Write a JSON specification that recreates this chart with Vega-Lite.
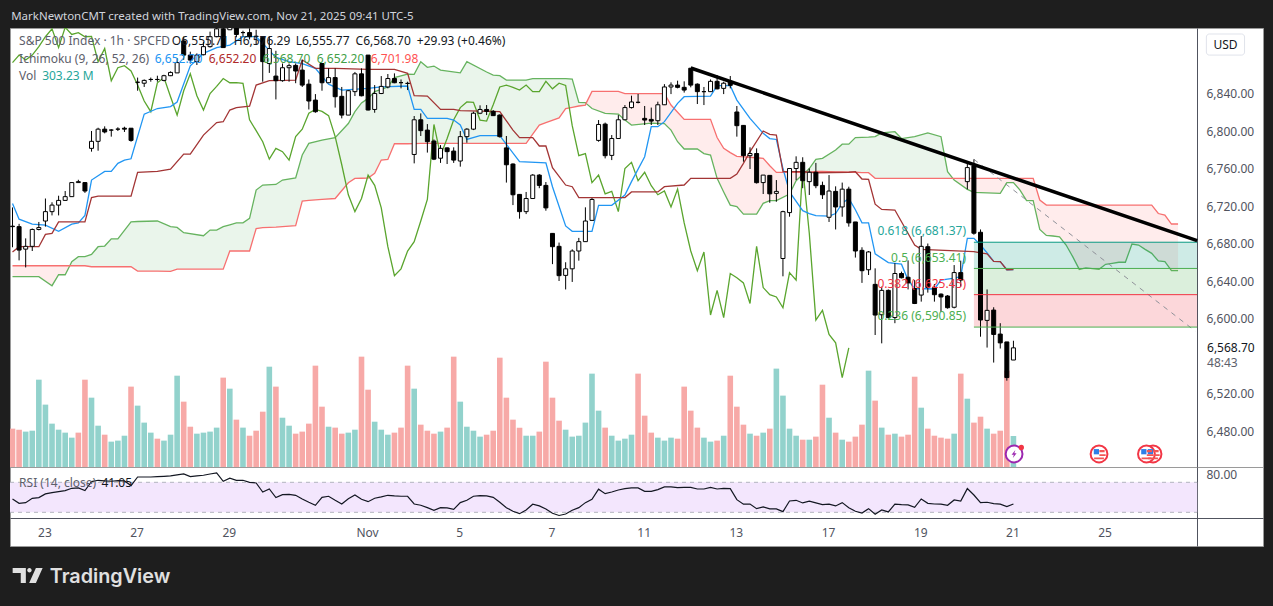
{"$schema":"https://vega.github.io/schema/vega-lite/v6.json","background":"#1e1e1e","padding":{"left":9,"top":0,"right":10,"bottom":0},"spacing":0,"bounds":"flush","config":{"font":"Noto Sans","text":{"font":"Noto Sans"},"axis":{"labelFont":"Noto Sans","labelColor":"#50535e","labelFontSize":12,"grid":false,"title":null}},
"datasets":{
"bars":[
{"i":0,"o":6698.5,"h":6718.5,"l":6676,"c":6698,"v":375,"d":"R","r":47.8,"k":6873},
{"i":1,"o":6698,"h":6701,"l":6662,"c":6673,"v":365,"d":"R","r":42,"k":6881},
{"i":2,"o":6674,"h":6685.5,"l":6654.5,"c":6677,"v":346,"d":"T","r":42.9,"k":6875.7},
{"i":3,"o":6677,"h":6696,"l":6672,"c":6695,"v":355,"d":"T","r":48.7,"k":6881},
{"i":4,"o":6695,"h":6703,"l":6694,"c":6697,"v":854,"d":"T","r":49.6,"k":6890},
{"i":5,"o":6704,"h":6728,"l":6698,"c":6714,"v":610,"d":"T","r":54.5,"k":6900.6},
{"i":6,"o":6714,"h":6724,"l":6710,"c":6721,"v":424,"d":"T","r":56.2,"k":6909},
{"i":7,"o":6721,"h":6731,"l":6710,"c":6726,"v":365,"d":"T","r":57.6,"k":6889},
{"i":8,"o":6726,"h":6736,"l":6726,"c":6730,"v":336,"d":"T","r":58.9,"k":6910.6},
{"i":9,"o":6730,"h":6745.5,"l":6730,"c":6745,"v":287,"d":"T","r":62,"k":6903},
{"i":10,"o":6745,"h":6748,"l":6745,"c":6746,"v":336,"d":"R","r":62.5,"k":6905},
{"i":11,"o":6745,"h":6745.5,"l":6734,"c":6736,"v":854,"d":"R","r":58.9,"k":6900.6},
{"i":12,"o":6781.5,"h":6800,"l":6778,"c":6789,"v":678,"d":"T","r":70.9,"k":6901},
{"i":13,"o":6789,"h":6803.5,"l":6779,"c":6802,"v":404,"d":"T","r":72.7,"k":6874},
{"i":14,"o":6802,"h":6805,"l":6797.5,"c":6799,"v":316,"d":"R","r":71.8,"k":6888},
{"i":15,"o":6801,"h":6802,"l":6794,"c":6801,"v":248,"d":"T","r":71.4,"k":6853.7},
{"i":16,"o":6802,"h":6804,"l":6800,"c":6802,"v":258,"d":"T","r":72.2,"k":6867.5},
{"i":17,"o":6803,"h":6804.6,"l":6799,"c":6802,"v":306,"d":"T","r":71.8,"k":6869.7},
{"i":18,"o":6803,"h":6803,"l":6788.6,"c":6790,"v":786,"d":"R","r":65.6,"k":6864},
{"i":19,"o":6852,"h":6857,"l":6843,"c":6852,"v":600,"d":"T","r":77.1,"k":6849},
{"i":20,"o":6851,"h":6855,"l":6847,"c":6854,"v":434,"d":"T","r":77.1,"k":6832},
{"i":21,"o":6855,"h":6857,"l":6852.6,"c":6855,"v":336,"d":"T","r":77.1,"k":6820.6},
{"i":22,"o":6855,"h":6859,"l":6852.6,"c":6855,"v":277,"d":"R","r":77.6,"k":6851.5},
{"i":23,"o":6854,"h":6860,"l":6853,"c":6859,"v":258,"d":"T","r":78,"k":6857},
{"i":24,"o":6859,"h":6863.6,"l":6858.6,"c":6862.5,"v":316,"d":"T","r":78.5,"k":6836.6},
{"i":25,"o":6862,"h":6877.5,"l":6862,"c":6873,"v":893,"d":"T","r":79.8,"k":6817},
{"i":26,"o":6896,"h":6900.6,"l":6876,"c":6881,"v":639,"d":"R","r":81.1,"k":6843},
{"i":27,"o":6881,"h":6884.6,"l":6872,"c":6875.7,"v":394,"d":"R","r":77.6,"k":6861},
{"i":28,"o":6874,"h":6882.8,"l":6870.4,"c":6881,"v":326,"d":"T","r":78.5,"k":6837.6},
{"i":29,"o":6881.4,"h":6895,"l":6880.7,"c":6890,"v":336,"d":"T","r":79.4,"k":6822.4},
{"i":30,"o":6890,"h":6906,"l":6889,"c":6900.6,"v":346,"d":"T","r":81.1,"k":6840},
{"i":31,"o":6900.6,"h":6911,"l":6900,"c":6909,"v":385,"d":"T","r":82.5,"k":6847.6},
{"i":32,"o":6909,"h":6915,"l":6889,"c":6889,"v":874,"d":"R","r":71.4,"k":6856},
{"i":33,"o":6908,"h":6915,"l":6907.7,"c":6910.6,"v":766,"d":"T","r":75.4,"k":6851.5},
{"i":34,"o":6911,"h":6914,"l":6900,"c":6903,"v":463,"d":"R","r":72.7,"k":6851.6},
{"i":35,"o":6905,"h":6907,"l":6900.6,"c":6905,"v":385,"d":"T","r":72.7,"k":6850.8},
{"i":36,"o":6905,"h":6909.5,"l":6897.7,"c":6900.6,"v":306,"d":"R","r":70,"k":6812},
{"i":37,"o":6901,"h":6908,"l":6891.7,"c":6901,"v":355,"d":"R","r":69.1,"k":6800.4},
{"i":38,"o":6900,"h":6900,"l":6852.6,"c":6874,"v":541,"d":"R","r":57.1,"k":6788.6},
{"i":39,"o":6872,"h":6901,"l":6862,"c":6888,"v":981,"d":"T","r":61.1,"k":6770},
{"i":40,"o":6858.6,"h":6885.6,"l":6833.7,"c":6853.7,"v":786,"d":"R","r":49.6,"k":6781.5},
{"i":41,"o":6853.7,"h":6872,"l":6852.6,"c":6867.5,"v":482,"d":"T","r":53.6,"k":6778},
{"i":42,"o":6867.5,"h":6872,"l":6852.6,"c":6869.7,"v":404,"d":"T","r":54,"k":6769},
{"i":43,"o":6870,"h":6872,"l":6851,"c":6864,"v":326,"d":"R","r":52.7,"k":6794},
{"i":44,"o":6865,"h":6875.7,"l":6847,"c":6849,"v":346,"d":"R","r":47.8,"k":6802},
{"i":45,"o":6850,"h":6855,"l":6823,"c":6832,"v":424,"d":"R","r":43.4,"k":6819},
{"i":46,"o":6833,"h":6839.4,"l":6819.5,"c":6820.6,"v":991,"d":"R","r":39.4,"k":6823},
{"i":47,"o":6872,"h":6872,"l":6843,"c":6851.5,"v":590,"d":"R","r":50,"k":6821},
{"i":48,"o":6851.5,"h":6866.8,"l":6851.5,"c":6857,"v":394,"d":"T","r":51.4,"k":6816.4},
{"i":49,"o":6857,"h":6866.8,"l":6825,"c":6836.6,"v":385,"d":"R","r":46,"k":6794},
{"i":50,"o":6837,"h":6847,"l":6813.5,"c":6817,"v":326,"d":"R","r":41.1,"k":6764},
{"i":51,"o":6817,"h":6843.7,"l":6817,"c":6843,"v":336,"d":"T","r":48.2,"k":6732},
{"i":52,"o":6842,"h":6863,"l":6837.3,"c":6861,"v":365,"d":"T","r":53.1,"k":6714},
{"i":53,"o":6861,"h":6866.8,"l":6837,"c":6837.6,"v":1079,"d":"R","r":47.4,"k":6728},
{"i":54,"o":6881,"h":6881,"l":6822,"c":6822.4,"v":756,"d":"R","r":44.2,"k":6753},
{"i":55,"o":6823,"h":6849,"l":6819.5,"c":6840,"v":443,"d":"T","r":48.7,"k":6742},
{"i":56,"o":6840,"h":6858.6,"l":6839.4,"c":6847.6,"v":365,"d":"T","r":50.5,"k":6718},
{"i":57,"o":6847,"h":6860.8,"l":6845.5,"c":6856,"v":316,"d":"T","r":52.7,"k":6676.6},
{"i":58,"o":6856,"h":6861.5,"l":6851,"c":6851.5,"v":336,"d":"R","r":51.8,"k":6645.7},
{"i":59,"o":6851.6,"h":6855,"l":6845.5,"c":6851.6,"v":385,"d":"R","r":51.4,"k":6653},
{"i":60,"o":6850.8,"h":6852.6,"l":6843.7,"c":6850.8,"v":991,"d":"R","r":51.4,"k":6672},
{"i":61,"o":6775,"h":6816,"l":6765.5,"c":6812,"v":766,"d":"T","r":41.1,"k":6682},
{"i":62,"o":6812,"h":6818.8,"l":6794.7,"c":6800.4,"v":414,"d":"R","r":39.4,"k":6704},
{"i":63,"o":6801,"h":6807.4,"l":6777,"c":6788.6,"v":355,"d":"R","r":36.2,"k":6727},
{"i":64,"o":6789.3,"h":6791,"l":6769,"c":6770,"v":326,"d":"R","r":32.7,"k":6807},
{"i":65,"o":6771,"h":6785,"l":6766,"c":6781.5,"v":346,"d":"T","r":36.2,"k":6773.7},
{"i":66,"o":6782,"h":6782.6,"l":6764.8,"c":6778,"v":385,"d":"R","r":35.8,"k":6792},
{"i":67,"o":6778.6,"h":6782.6,"l":6766,"c":6769,"v":1079,"d":"R","r":34,"k":6812},
{"i":68,"o":6768,"h":6800,"l":6762,"c":6794,"v":639,"d":"T","r":42.9,"k":6825},
{"i":69,"o":6794,"h":6803,"l":6787.5,"c":6802,"v":394,"d":"T","r":46,"k":6831},
{"i":70,"o":6802,"h":6820.6,"l":6801,"c":6819,"v":355,"d":"T","r":51.4,"k":6830.6},
{"i":71,"o":6819,"h":6827.4,"l":6818,"c":6823,"v":297,"d":"T","r":52.2,"k":6811.7},
{"i":72,"o":6823,"h":6827.7,"l":6817,"c":6821,"v":316,"d":"R","r":51.8,"k":6810.6},
{"i":73,"o":6821,"h":6822.4,"l":6816,"c":6816.4,"v":355,"d":"R","r":50,"k":6828},
{"i":74,"o":6817,"h":6817.8,"l":6793,"c":6794,"v":1069,"d":"R","r":43.4,"k":6847},
{"i":75,"o":6782,"h":6794.7,"l":6745,"c":6764,"v":678,"d":"R","r":36.2,"k":6849},
{"i":76,"o":6764.8,"h":6765.5,"l":6721,"c":6732,"v":463,"d":"R","r":31.4,"k":6846.6},
{"i":77,"o":6732.4,"h":6732.8,"l":6706.5,"c":6714,"v":385,"d":"R","r":28.2,"k":6843.7},
{"i":78,"o":6714,"h":6735,"l":6711.4,"c":6728,"v":306,"d":"T","r":33.1,"k":6849},
{"i":79,"o":6728,"h":6754,"l":6728,"c":6753,"v":306,"d":"T","r":40.8,"k":6842},
{"i":80,"o":6753,"h":6754,"l":6739,"c":6742,"v":346,"d":"R","r":38.5,"k":6842},
{"i":81,"o":6742,"h":6745.6,"l":6715,"c":6718,"v":1030,"d":"R","r":34.5,"k":6853},
{"i":82,"o":6690.8,"h":6691,"l":6658,"c":6676.6,"v":678,"d":"R","r":28.8,"k":6845},
{"i":83,"o":6677,"h":6681,"l":6640,"c":6645.7,"v":453,"d":"R","r":25.8,"k":6851},
{"i":84,"o":6646,"h":6660,"l":6631,"c":6653,"v":365,"d":"T","r":27.8,"k":6848.7},
{"i":85,"o":6653,"h":6673.8,"l":6639,"c":6672,"v":297,"d":"T","r":32.7,"k":6805.7},
{"i":86,"o":6672,"h":6686,"l":6661.7,"c":6682,"v":306,"d":"T","r":36.2,"k":6773.7},
{"i":87,"o":6682,"h":6718.6,"l":6682,"c":6704,"v":434,"d":"T","r":42.9,"k":6776},
{"i":88,"o":6704.7,"h":6728.5,"l":6704,"c":6727,"v":913,"d":"T","r":47.4,"k":6744.9},
{"i":89,"o":6790,"h":6811.7,"l":6788.6,"c":6807,"v":551,"d":"T","r":60.8,"k":6753},
{"i":90,"o":6807.4,"h":6809,"l":6770.8,"c":6773.7,"v":385,"d":"R","r":54.9,"k":6733},
{"i":91,"o":6774,"h":6795.7,"l":6769,"c":6792,"v":306,"d":"T","r":57.1,"k":6735.6},
{"i":92,"o":6792,"h":6817,"l":6791.8,"c":6812,"v":258,"d":"T","r":59.8,"k":6714},
{"i":93,"o":6812,"h":6827.7,"l":6811.7,"c":6825,"v":277,"d":"T","r":61.6,"k":6760},
{"i":94,"o":6825,"h":6837.7,"l":6824,"c":6831,"v":316,"d":"T","r":62.5,"k":6766.6},
{"i":95,"o":6830.6,"h":6839.5,"l":6829.5,"c":6830.6,"v":913,"d":"R","r":62.5,"k":6747},
{"i":96,"o":6813.5,"h":6826.7,"l":6806.4,"c":6811.7,"v":502,"d":"R","r":58,"k":6756},
{"i":97,"o":6812.4,"h":6825,"l":6806.4,"c":6810.6,"v":336,"d":"R","r":58,"k":6741.7},
{"i":98,"o":6811,"h":6831.3,"l":6806.4,"c":6828,"v":287,"d":"T","r":60.3,"k":6732},
{"i":99,"o":6828,"h":6850,"l":6827.7,"c":6847,"v":258,"d":"T","r":63.8,"k":6736},
{"i":100,"o":6847,"h":6851.9,"l":6839.4,"c":6849,"v":287,"d":"T","r":63.8,"k":6719},
{"i":101,"o":6849,"h":6853.7,"l":6845.5,"c":6846.6,"v":277,"d":"R","r":62.9,"k":6738},
{"i":102,"o":6846.6,"h":6853,"l":6841,"c":6843.7,"v":786,"d":"R","r":63.3,"k":6702},
{"i":103,"o":6867,"h":6867.2,"l":6846.6,"c":6849,"v":551,"d":"R","r":63.3,"k":6672},
{"i":104,"o":6850,"h":6850.8,"l":6828.8,"c":6842,"v":385,"d":"R","r":61.1,"k":6651},
{"i":105,"o":6842,"h":6847,"l":6827.7,"c":6842,"v":287,"d":"T","r":61.1,"k":6671},
{"i":106,"o":6842,"h":6855,"l":6841.6,"c":6853,"v":248,"d":"T","r":63.3,"k":6603.7},
{"i":107,"o":6853,"h":6859.7,"l":6844.4,"c":6845,"v":258,"d":"R","r":61.1,"k":6630},
{"i":108,"o":6845.5,"h":6852.6,"l":6839.4,"c":6851,"v":306,"d":"T","r":62,"k":6601},
{"i":109,"o":6853,"h":6858.7,"l":6845.5,"c":6848.7,"v":893,"d":"R","r":61.6,"k":6648},
{"i":110,"o":6820.3,"h":6826.7,"l":6794,"c":6805.7,"v":590,"d":"R","r":46.9,"k":6643.5},
{"i":111,"o":6806,"h":6806.4,"l":6767.3,"c":6773.7,"v":414,"d":"R","r":40.8,"k":6638},
{"i":112,"o":6773.7,"h":6782.6,"l":6759.5,"c":6776,"v":326,"d":"T","r":41.1,"k":6616},
{"i":113,"o":6776,"h":6781.5,"l":6744,"c":6744.9,"v":306,"d":"R","r":34.9,"k":6677},
{"i":114,"o":6745,"h":6753,"l":6732.8,"c":6753,"v":336,"d":"T","r":37.2,"k":6633},
{"i":115,"o":6752.7,"h":6753,"l":6723.5,"c":6733,"v":375,"d":"R","r":34.5,"k":6625.4},
{"i":116,"o":6733.5,"h":6747.7,"l":6724.6,"c":6735.6,"v":962,"d":"T","r":34.5,"k":6623},
{"i":117,"o":6664,"h":6715,"l":6645,"c":6714,"v":698,"d":"T","r":30.9,"k":6611.5},
{"i":118,"o":6713,"h":6760,"l":6708.6,"c":6760,"v":375,"d":"T","r":45.1,"k":6649},
{"i":119,"o":6760,"h":6773,"l":6747.7,"c":6766.6,"v":306,"d":"T","r":46,"k":6641},
{"i":120,"o":6766.6,"h":6772,"l":6739,"c":6747,"v":267,"d":"R","r":42.5,"k":6761},
{"i":121,"o":6746,"h":6760,"l":6731.8,"c":6756,"v":267,"d":"T","r":44.8,"k":6691},
{"i":122,"o":6756,"h":6766,"l":6739,"c":6741.7,"v":297,"d":"R","r":42.5,"k":6598.4},
{"i":123,"o":6742,"h":6746,"l":6727.5,"c":6732,"v":805,"d":"R","r":40.2,"k":6608.7},
{"i":124,"o":6708,"h":6753,"l":6703,"c":6736,"v":482,"d":"T","r":40.8,"k":6583},
{"i":125,"o":6735.6,"h":6741,"l":6695,"c":6719,"v":336,"d":"R","r":38.5,"k":6574},
{"i":126,"o":6719,"h":6745,"l":6708.6,"c":6738,"v":267,"d":"T","r":42.9,"k":6537},
{"i":127,"o":6738,"h":6740.6,"l":6698,"c":6702,"v":248,"d":"R","r":36.2,"k":6568.7},
{"i":128,"o":6703,"h":6703,"l":6665,"c":6672,"v":297,"d":"R","r":31.4},
{"i":129,"o":6672.7,"h":6676,"l":6638,"c":6651,"v":414,"d":"R","r":29.1},
{"i":130,"o":6652,"h":6672,"l":6646.4,"c":6671,"v":942,"d":"T","r":34.9},
{"i":131,"o":6636.4,"h":6653.5,"l":6582.4,"c":6603.7,"v":649,"d":"R","r":27.4},
{"i":132,"o":6604,"h":6634,"l":6573.5,"c":6630,"v":385,"d":"T","r":33.1},
{"i":133,"o":6630,"h":6631,"l":6600,"c":6601,"v":316,"d":"R","r":30.5},
{"i":134,"o":6601,"h":6659,"l":6595,"c":6648,"v":326,"d":"T","r":40.8},
{"i":135,"o":6648,"h":6650,"l":6642.8,"c":6643.5,"v":297,"d":"R","r":40.2},
{"i":136,"o":6644,"h":6662,"l":6631,"c":6638,"v":316,"d":"R","r":39.8},
{"i":137,"o":6632,"h":6641,"l":6615.4,"c":6616,"v":883,"d":"R","r":36.7},
{"i":138,"o":6625,"h":6688,"l":6618,"c":6677,"v":580,"d":"T","r":47.8},
{"i":139,"o":6676.6,"h":6680,"l":6627.6,"c":6633,"v":375,"d":"R","r":42},
{"i":140,"o":6633,"h":6636.8,"l":6618,"c":6625.4,"v":306,"d":"R","r":41.1},
{"i":141,"o":6626,"h":6626.8,"l":6607,"c":6623,"v":287,"d":"R","r":40.8},
{"i":142,"o":6624,"h":6625,"l":6610.5,"c":6611.5,"v":277,"d":"R","r":39.4},
{"i":143,"o":6612,"h":6657,"l":6610.8,"c":6649,"v":326,"d":"T","r":46.5},
{"i":144,"o":6649,"h":6661.7,"l":6634,"c":6641,"v":913,"d":"R","r":45.1},
{"i":145,"o":6746,"h":6765.5,"l":6737.8,"c":6761,"v":668,"d":"T","r":61.6},
{"i":146,"o":6762.7,"h":6769.8,"l":6689.4,"c":6691,"v":434,"d":"R","r":53.1},
{"i":147,"o":6692,"h":6695,"l":6580.6,"c":6598.4,"v":492,"d":"R","r":42.9},
{"i":148,"o":6598,"h":6631,"l":6569,"c":6608.7,"v":375,"d":"T","r":43.4},
{"i":149,"o":6609,"h":6612,"l":6553,"c":6583,"v":326,"d":"R","r":41.6},
{"i":150,"o":6583.4,"h":6595,"l":6568,"c":6574,"v":355,"d":"R","r":40.8},
{"i":151,"o":6575,"h":6575,"l":6533.7,"c":6537,"v":942,"d":"R","r":37.6},
{"i":152,"o":6555.71,"h":6576.29,"l":6555.77,"c":6568.7,"v":303.23,"d":"T","r":41.05}
],
"tenkan":[{"i":0,"t":6722.8},{"i":1,"t":6706},{"i":3,"t":6700.7},{"i":5,"t":6699.7},{"i":7,"t":6693},{"i":9,"t":6700.7},{"i":10,"t":6702},{"i":11,"t":6710},{"i":12,"t":6747.7},{"i":14,"t":6757},{"i":15,"t":6757},{"i":16,"t":6765.5},{"i":17,"t":6769},{"i":18,"t":6770.4},{"i":20,"t":6818},{"i":22,"t":6824},{"i":24,"t":6826},{"i":25,"t":6831},{"i":27,"t":6869.6},{"i":29,"t":6882.8},{"i":31,"t":6889},{"i":33,"t":6891.7},{"i":35,"t":6900.6},{"i":37,"t":6900.6},{"i":38,"t":6893.5},{"i":40,"t":6878.5},{"i":42,"t":6874},{"i":44,"t":6872},{"i":46,"t":6866.8},{"i":48,"t":6850},{"i":50,"t":6843.7},{"i":54,"t":6845.5},{"i":56,"t":6847},{"i":60,"t":6848},{"i":61,"t":6823},{"i":62,"t":6823},{"i":63,"t":6813.5},{"i":66,"t":6813.5},{"i":67,"t":6811.7},{"i":68,"t":6806.4},{"i":69,"t":6791},{"i":71,"t":6795},{"i":74,"t":6795},{"i":77,"t":6767.3},{"i":81,"t":6766},{"i":82,"t":6740.6},{"i":84,"t":6698.7},{"i":85,"t":6693},{"i":88,"t":6693},{"i":89,"t":6720.7},{"i":91,"t":6720.7},{"i":93,"t":6731.7},{"i":94,"t":6746},{"i":96,"t":6772.6},{"i":97,"t":6804.6},{"i":98,"t":6804.6},{"i":99,"t":6810},{"i":101,"t":6829.5},{"i":102,"t":6836.6},{"i":106,"t":6837.3},{"i":107,"t":6848.4},{"i":109,"t":6848.4},{"i":110,"t":6833},{"i":112,"t":6813.5},{"i":114,"t":6797.5},{"i":115,"t":6792},{"i":116,"t":6791},{"i":117,"t":6760},{"i":118,"t":6735},{"i":120,"t":6715},{"i":121,"t":6712},{"i":122,"t":6709.7},{"i":124,"t":6709.3},{"i":125,"t":6712},{"i":126,"t":6723},{"i":127,"t":6728},{"i":128,"t":6716},{"i":129,"t":6702},{"i":130,"t":6702},{"i":131,"t":6669},{"i":133,"t":6659.6},{"i":135,"t":6658},{"i":136,"t":6641},{"i":137,"t":6632},{"i":140,"t":6631.5},{"i":141,"t":6641},{"i":143,"t":6643},{"i":144,"t":6644.6},{"i":145,"t":6685.5},{"i":146,"t":6685.5},{"i":147,"t":6678.4},{"i":148,"t":6670},{"i":149,"t":6661},{"i":150,"t":6660.6},{"i":151,"t":6652},{"i":152,"t":6652.2}],
"kijun":[{"i":0,"b":6671},{"i":1,"b":6676.6},{"i":4,"b":6676.6},{"i":5,"b":6689.7},{"i":6,"b":6690.8},{"i":7,"b":6703},{"i":11,"b":6703},{"i":12,"b":6729},{"i":13,"b":6730.6},{"i":18,"b":6730.6},{"i":19,"b":6756},{"i":22,"b":6757},{"i":24,"b":6759.4},{"i":26,"b":6775.4},{"i":27,"b":6775.4},{"i":29,"b":6795.7},{"i":31,"b":6809},{"i":32,"b":6809.9},{"i":33,"b":6822.4},{"i":34,"b":6825},{"i":36,"b":6826.6},{"i":37,"b":6849},{"i":39,"b":6853.7},{"i":43,"b":6854.4},{"i":44,"b":6875.7},{"i":46,"b":6866.8},{"i":49,"b":6866.8},{"i":54,"b":6865.7},{"i":58,"b":6865.7},{"i":60,"b":6861.5},{"i":61,"b":6837.7},{"i":63,"b":6837.3},{"i":65,"b":6823},{"i":67,"b":6823},{"i":68,"b":6821.7},{"i":74,"b":6820.6},{"i":76,"b":6801},{"i":77,"b":6793},{"i":79,"b":6793},{"i":80,"b":6784},{"i":81,"b":6784},{"i":82,"b":6761},{"i":84,"b":6742.4},{"i":85,"b":6740.6},{"i":86,"b":6729},{"i":93,"b":6729},{"i":94,"b":6735},{"i":98,"b":6735},{"i":99,"b":6740.6},{"i":102,"b":6742.4},{"i":103,"b":6749.5},{"i":109,"b":6749.5},{"i":110,"b":6754},{"i":111,"b":6765.5},{"i":112,"b":6778},{"i":114,"b":6800},{"i":115,"b":6796.4},{"i":116,"b":6795.7},{"i":117,"b":6756.6},{"i":120,"b":6756.6},{"i":122,"b":6755.5},{"i":127,"b":6756},{"i":128,"b":6756.6},{"i":129,"b":6748.8},{"i":130,"b":6748.4},{"i":131,"b":6722},{"i":132,"b":6716.4},{"i":134,"b":6715.7},{"i":137,"b":6678.4},{"i":138,"b":6673.8},{"i":146,"b":6671.3},{"i":147,"b":6670},{"i":148,"b":6669},{"i":149,"b":6661},{"i":150,"b":6660.6},{"i":151,"b":6652},{"i":152,"b":6652.2}],
"cloud":[{"i":0,"a":6644.6,"b":6656.3,"s":"r"},{"i":4,"a":6644.6,"b":6656.3,"s":"r"},{"i":6,"a":6635,"b":6656.3,"s":"r"},{"i":7,"a":6646.7,"b":6656.3,"s":"r"},{"i":8,"a":6646.7,"b":6656.3,"s":"r"},{"i":8.7,"a":6656.3,"b":6656.3,"s":"r"},{"i":8.7,"a":6656.3,"b":6656.3,"s":"g"},{"i":9,"a":6660.6,"b":6656.3,"s":"g"},{"i":10,"a":6666,"b":6656.3,"s":"g"},{"i":11,"a":6666,"b":6656.3,"s":"g"},{"i":12,"a":6668.4,"b":6655.2,"s":"g"},{"i":13,"a":6676.6,"b":6655.2,"s":"g"},{"i":14,"a":6677.3,"b":6655.2,"s":"g"},{"i":15,"a":6685,"b":6655.2,"s":"g"},{"i":16,"a":6685,"b":6655.2,"s":"g"},{"i":18,"a":6703,"b":6655.2,"s":"g"},{"i":19,"a":6703.5,"b":6650.6,"s":"g"},{"i":22,"a":6704,"b":6650.5,"s":"g"},{"i":24,"a":6698,"b":6650.3,"s":"g"},{"i":25,"a":6697.2,"b":6652.7,"s":"g"},{"i":26,"a":6691.5,"b":6652.7,"s":"g"},{"i":29,"a":6688.3,"b":6652.7,"s":"g"},{"i":30,"a":6694.3,"b":6652.7,"s":"g"},{"i":31,"a":6694.3,"b":6652.7,"s":"g"},{"i":32,"a":6698,"b":6652.7,"s":"g"},{"i":33,"a":6700,"b":6672,"s":"g"},{"i":34,"a":6702,"b":6672,"s":"g"},{"i":35,"a":6702,"b":6672,"s":"g"},{"i":36,"a":6706.8,"b":6672,"s":"g"},{"i":37,"a":6737,"b":6696,"s":"g"},{"i":38,"a":6742.4,"b":6697,"s":"g"},{"i":40,"a":6743,"b":6697.5,"s":"g"},{"i":41,"a":6747.7,"b":6698,"s":"g"},{"i":43,"a":6750,"b":6699,"s":"g"},{"i":44,"a":6774.4,"b":6725.3,"s":"g"},{"i":45,"a":6786.8,"b":6726,"s":"g"},{"i":47,"a":6790.4,"b":6727,"s":"g"},{"i":49,"a":6793,"b":6728,"s":"g"},{"i":51,"a":6808,"b":6744.8,"s":"g"},{"i":52,"a":6820.6,"b":6749.5,"s":"g"},{"i":53,"a":6830,"b":6749.6,"s":"g"},{"i":54,"a":6834.8,"b":6749.8,"s":"g"},{"i":55,"a":6842,"b":6754.8,"s":"g"},{"i":56,"a":6844.5,"b":6769,"s":"g"},{"i":57,"a":6847,"b":6769.7,"s":"g"},{"i":58,"a":6857,"b":6786.4,"s":"g"},{"i":60,"a":6860.7,"b":6786.4,"s":"g"},{"i":61,"a":6860.4,"b":6786.6,"s":"g"},{"i":62,"a":6874,"b":6786.8,"s":"g"},{"i":63,"a":6868,"b":6786.8,"s":"g"},{"i":64,"a":6869.3,"b":6786.8,"s":"g"},{"i":65,"a":6865,"b":6786.8,"s":"g"},{"i":68,"a":6862,"b":6786.8,"s":"g"},{"i":69,"a":6874,"b":6786.8,"s":"g"},{"i":72,"a":6863,"b":6786.8,"s":"g"},{"i":73,"a":6859.7,"b":6786.8,"s":"g"},{"i":74,"a":6859,"b":6786.8,"s":"g"},{"i":75,"a":6854.4,"b":6786.8,"s":"g"},{"i":78,"a":6854.4,"b":6786.8,"s":"g"},{"i":79,"a":6856,"b":6796.6,"s":"g"},{"i":80,"a":6856,"b":6806.4,"s":"g"},{"i":81,"a":6856,"b":6809,"s":"g"},{"i":83,"a":6856,"b":6814,"s":"g"},{"i":84,"a":6856,"b":6824,"s":"g"},{"i":85,"a":6855.5,"b":6825.3,"s":"g"},{"i":86,"a":6830.6,"b":6826.7,"s":"g"},{"i":87,"a":6830.2,"b":6827.7,"s":"g"},{"i":87.1,"a":6829.5,"b":6829.5,"s":"g"},{"i":87.1,"a":6829.5,"b":6829.5,"s":"r"},{"i":88,"a":6824,"b":6842.3,"s":"r"},{"i":90,"a":6818.8,"b":6842.3,"s":"r"},{"i":92,"a":6818,"b":6842.3,"s":"r"},{"i":93,"a":6811.7,"b":6840,"s":"r"},{"i":94,"a":6806.4,"b":6840,"s":"r"},{"i":97,"a":6808.5,"b":6840,"s":"r"},{"i":99,"a":6808,"b":6840,"s":"r"},{"i":100,"a":6801,"b":6827.7,"s":"r"},{"i":101,"a":6788.6,"b":6820,"s":"r"},{"i":102,"a":6780.8,"b":6812.4,"s":"r"},{"i":104,"a":6780.8,"b":6812.4,"s":"r"},{"i":105,"a":6776,"b":6812.4,"s":"r"},{"i":106,"a":6774.4,"b":6812.4,"s":"r"},{"i":107,"a":6749.5,"b":6793,"s":"r"},{"i":108,"a":6735,"b":6781.5,"s":"r"},{"i":109,"a":6721,"b":6777,"s":"r"},{"i":110,"a":6719.3,"b":6773,"s":"r"},{"i":111,"a":6711.4,"b":6772.5,"s":"r"},{"i":113,"a":6711.4,"b":6771.5,"s":"r"},{"i":114,"a":6722.8,"b":6770.8,"s":"r"},{"i":115,"a":6725.7,"b":6763,"s":"r"},{"i":116,"a":6725.7,"b":6755.9,"s":"r"},{"i":118,"a":6732.8,"b":6755.9,"s":"r"},{"i":119,"a":6747,"b":6755.9,"s":"r"},{"i":120,"a":6753.5,"b":6755.8,"s":"r"},{"i":120.4,"a":6755.8,"b":6755.8,"s":"r"},{"i":120.4,"a":6755.8,"b":6755.8,"s":"g"},{"i":121,"a":6760,"b":6755.8,"s":"g"},{"i":122,"a":6769.8,"b":6757,"s":"g"},{"i":123,"a":6770.8,"b":6757,"s":"g"},{"i":125,"a":6779.7,"b":6756.5,"s":"g"},{"i":126,"a":6786,"b":6756.4,"s":"g"},{"i":127,"a":6786,"b":6756,"s":"g"},{"i":128,"a":6793,"b":6756,"s":"g"},{"i":129,"a":6793.2,"b":6755.6,"s":"g"},{"i":130,"a":6793.5,"b":6755.6,"s":"g"},{"i":131,"a":6794,"b":6749.5,"s":"g"},{"i":132,"a":6798,"b":6749.5,"s":"g"},{"i":134,"a":6799.3,"b":6749.5,"s":"g"},{"i":135,"a":6792,"b":6749.5,"s":"g"},{"i":137,"a":6794,"b":6749.5,"s":"g"},{"i":139,"a":6798,"b":6749.5,"s":"g"},{"i":141,"a":6794,"b":6749.5,"s":"g"},{"i":142,"a":6756.6,"b":6749.5,"s":"g"},{"i":142.8,"a":6749.5,"b":6749.5,"s":"g"},{"i":142.8,"a":6749.5,"b":6749.5,"s":"r"},{"i":143,"a":6747.7,"b":6749.5,"s":"r"},{"i":145,"a":6737.8,"b":6749.5,"s":"r"},{"i":146,"a":6734.6,"b":6749.5,"s":"r"},{"i":150,"a":6733.5,"b":6749.5,"s":"r"},{"i":151,"a":6744.9,"b":6749.5,"s":"r"},{"i":152,"a":6744.9,"b":6749.5,"s":"r"},{"i":153,"a":6737,"b":6749.5,"s":"r"},{"i":154,"a":6725.7,"b":6749.5,"s":"r"},{"i":155,"a":6725.7,"b":6749.5,"s":"r"},{"i":156,"a":6695,"b":6726.4,"s":"r"},{"i":157,"a":6688.7,"b":6721,"s":"r"},{"i":158,"a":6688,"b":6721,"s":"r"},{"i":159,"a":6687,"b":6721,"s":"r"},{"i":160,"a":6678.4,"b":6721,"s":"r"},{"i":161,"a":6666,"b":6721,"s":"r"},{"i":162,"a":6652.4,"b":6721,"s":"r"},{"i":163,"a":6654,"b":6721,"s":"r"},{"i":165,"a":6652.4,"b":6721,"s":"r"},{"i":166,"a":6657.8,"b":6721,"s":"r"},{"i":167,"a":6658.9,"b":6721,"s":"r"},{"i":168,"a":6660,"b":6721,"s":"r"},{"i":169,"a":6660,"b":6721,"s":"r"},{"i":170,"a":6679.5,"b":6721,"s":"r"},{"i":171,"a":6678.4,"b":6721,"s":"r"},{"i":172,"a":6673.8,"b":6721,"s":"r"},{"i":173,"a":6669.5,"b":6721,"s":"r"},{"i":174,"a":6661.4,"b":6712,"s":"r"},{"i":175,"a":6660.6,"b":6710.4,"s":"r"},{"i":176,"a":6651,"b":6700.8,"s":"r"},{"i":177,"a":6651,"b":6700.8,"s":"r"}],
"fibBands":[{"x1":146,"x2":179.9,"lo":6653.41,"hi":6681.37,"k":"teal"},{"x1":146,"x2":179.9,"lo":6625.45,"hi":6653.41,"k":"green"},{"x1":146,"x2":179.9,"lo":6590.85,"hi":6625.45,"k":"red"}],
"fibLines":[{"x1":146,"x2":179.9,"p":6681.37,"k":"teal"},{"x1":146,"x2":179.9,"p":6653.41,"k":"green"},{"x1":146,"x2":179.9,"p":6625.45,"k":"red"},{"x1":146,"x2":179.9,"p":6590.85,"k":"green"}],
"fibText":[{"i":144.8,"p":6693.6,"t":"0.618 (6,681.37)","k":"teal"},{"i":144.8,"p":6664.2,"t":"0.5 (6,653.41)","k":"green"},{"i":144.8,"p":6636.8,"t":"0.382 (6,625.45)","k":"red"},{"i":144.8,"p":6602.7,"t":"0.236 (6,590.85)","k":"green"}],
"trend":[{"i":103,"p":6867.2},{"i":179.9,"p":6683}],
"diag":[{"i":146,"p":6769.8},{"i":179.6,"p":6586.6}],
"legend":[{"i":1,"p":6895.5,"t":"S&P 500 Index · 1h · SPCFD","k":"label"},{"i":24.2,"p":6895.5,"t":"O6,555.71","k":"val"},{"i":33.6,"p":6895.5,"t":"H6,576.29","k":"val"},{"i":43,"p":6895.5,"t":"L6,555.77","k":"val"},{"i":52.1,"p":6895.5,"t":"C6,568.70","k":"val"},{"i":61.4,"p":6895.5,"t":"+29.93 (+0.46%)","k":"val"},{"i":1,"p":6876.3,"t":"Ichimoku (9, 26, 52, 26)","k":"label"},{"i":21.6,"p":6876.3,"t":"6,652.20","k":"blue"},{"i":29.8,"p":6876.3,"t":"6,652.20","k":"maroon"},{"i":38,"p":6876.3,"t":"6,568.70","k":"green"},{"i":46.2,"p":6876.3,"t":"6,652.20","k":"green"},{"i":54.4,"p":6876.3,"t":"6,701.98","k":"red"},{"i":1,"p":6858.7,"t":"Vol","k":"label"},{"i":4.5,"p":6858.7,"t":"303.23 M","k":"teal"},{"i":181.4,"p":6568.7,"t":"6,568.70","k":"val"},{"i":181.4,"p":6553,"t":"48:43","k":"label"}],
"usdBox":[{"x1":181.3,"x2":187.1,"lo":6881,"hi":6903.5}],
"usdText":[{"i":184.2,"p":6892,"t":"USD"}],
"flags":[{"i":165,"p":6455.5},{"i":173.2,"p":6455.5},{"i":172.2,"p":6455.5}],
"flash":[{"i":152.1,"p":6455.5}],
"flashDot":[{"i":153.2,"p":6462.4}],
"rsiBand":[{"x1":-0.38,"x2":179.9,"lo":30,"hi":70}],
"rsiText":[{"i":1,"r":69,"t":"RSI (14, close)","k":"label"},{"i":13.5,"r":69,"t":"41.05","k":"val"}],
"header":[{"i":-0.2,"y":0.38,"t":"MarkNewtonCMT created with TradingView.com, Nov 21, 2025 09:41 UTC-5"}],
"logo":[{"i":2.3,"y":0.508}],
"logoText":[{"i":5.65,"y":0.49,"t":"TradingView"}]
},
"vconcat":[
{"width":1253,"height":28,"view":{"fill":null,"stroke":null},"data":{"name":"header"},"mark":{"type":"text","align":"left","baseline":"middle","fontSize":11.5,"color":"#d1d4dc"},"encoding":{"x":{"field":"i","type":"quantitative","scale":{"domain":[-0.38,189.9],"nice":false,"zero":false,"padding":0},"axis":null},"y":{"field":"y","type":"quantitative","scale":{"domain":[0,1]},"axis":null},"text":{"field":"t"}}},
{"width":1253,"height":439,"view":{"fill":"#ffffff","stroke":"#9a9a9a"},"resolve":{"scale":{"y":"independent","color":"independent"},"axis":{"x":"independent","y":"independent"}},
"encoding":{"x":{"field":"i","type":"quantitative","scale":{"domain":[-0.38,189.9],"nice":false,"zero":false,"padding":0},"axis":null}},
"layer":[
{"data":{"name":"bars"},"mark":{"type":"bar","width":5.6,"orient":"vertical","clip":true},"encoding":{"x":{"field":"i","type":"quantitative","scale":{"domain":[-0.38,189.9],"nice":false,"zero":false,"padding":0},"axis":{"labels":false,"ticks":false,"domain":true,"domainColor":"#50535e","title":null}},"y":{"field":"v","type":"quantitative","scale":{"domain":[0,4293],"nice":false},"axis":null,"stack":null},"color":{"field":"d","type":"nominal","scale":{"domain":["T","R"],"range":["#92d2cc","#f7a9a7"]},"legend":null}}},
{"resolve":{"scale":{"color":"independent"},"axis":{"x":"independent","y":"independent"}},"layer":[
{"data":{"name":"cloud"},"mark":{"type":"area","opacity":0.11,"clip":true,"line":false},"encoding":{"y":{"field":"a","type":"quantitative","scale":{"domain":[6441.6,6909.9],"nice":false,"zero":false},"axis":{"orient":"right","offset":-66,"values":[6480,6520,6600,6640,6680,6720,6760,6800,6840],"format":",.2f","labelPadding":9,"ticks":false,"domain":true,"domainColor":"#50535e","domainWidth":1,"title":null}},"y2":{"field":"b"},"color":{"field":"s","type":"nominal","scale":{"domain":["g","r"],"range":["#43a047","#ff5252"]},"legend":null}}},
{"data":{"name":"cloud"},"mark":{"type":"line","color":"#66b35f","strokeWidth":1.3,"clip":true},"encoding":{"y":{"field":"a","type":"quantitative","scale":{"domain":[6441.6,6909.9],"nice":false,"zero":false},"axis":null}}},
{"data":{"name":"cloud"},"mark":{"type":"line","color":"#f77070","strokeWidth":1.3,"clip":true},"encoding":{"y":{"field":"b","type":"quantitative","scale":{"domain":[6441.6,6909.9],"nice":false,"zero":false},"axis":null}}},
{"data":{"name":"fibBands"},"mark":{"type":"rect","opacity":0.2},"encoding":{"x":{"field":"x1","type":"quantitative","scale":{"domain":[-0.38,189.9],"nice":false,"zero":false,"padding":0},"axis":null},"x2":{"field":"x2"},"y":{"field":"lo","type":"quantitative","scale":{"domain":[6441.6,6909.9],"nice":false,"zero":false},"axis":null},"y2":{"field":"hi"},"color":{"field":"k","type":"nominal","scale":{"domain":["teal","green","red"],"range":["#089981","#4caf50","#f23645"]},"legend":null}}},
{"data":{"name":"bars"},"mark":{"type":"line","color":"#5aa52e","strokeWidth":1.3,"clip":true},"encoding":{"y":{"field":"k","type":"quantitative","scale":{"domain":[6441.6,6909.9],"nice":false,"zero":false},"axis":null}}},
{"data":{"name":"tenkan"},"mark":{"type":"line","color":"#2196f3","strokeWidth":1.3,"clip":true},"encoding":{"y":{"field":"t","type":"quantitative","scale":{"domain":[6441.6,6909.9],"nice":false,"zero":false},"axis":null}}},
{"data":{"name":"kijun"},"mark":{"type":"line","color":"#a33535","strokeWidth":1.3,"clip":true},"encoding":{"y":{"field":"b","type":"quantitative","scale":{"domain":[6441.6,6909.9],"nice":false,"zero":false},"axis":null}}},
{"data":{"name":"diag"},"mark":{"type":"line","color":"#8f9199","strokeWidth":1,"strokeDash":[5,5]},"encoding":{"y":{"field":"p","type":"quantitative","scale":{"domain":[6441.6,6909.9],"nice":false,"zero":false},"axis":null}}},
{"data":{"name":"bars"},"mark":{"type":"rule","color":"#000000","strokeWidth":1,"clip":true},"encoding":{"y":{"field":"h","type":"quantitative","scale":{"domain":[6441.6,6909.9],"nice":false,"zero":false},"axis":null},"y2":{"field":"l"}}},
{"data":{"name":"bars"},"mark":{"type":"bar","width":4,"orient":"vertical","stroke":"#000000","strokeWidth":1,"clip":true},"encoding":{"y":{"field":"o","type":"quantitative","scale":{"domain":[6441.6,6909.9],"nice":false,"zero":false},"axis":null},"y2":{"field":"c"},"fill":{"condition":{"test":"datum.c>datum.o","value":"#ffffff"},"value":"#000000"}}},
{"data":{"name":"fibLines"},"mark":{"type":"rule","strokeWidth":1},"encoding":{"x":{"field":"x1","type":"quantitative","scale":{"domain":[-0.38,189.9],"nice":false,"zero":false,"padding":0},"axis":null},"x2":{"field":"x2"},"y":{"field":"p","type":"quantitative","scale":{"domain":[6441.6,6909.9],"nice":false,"zero":false},"axis":null},"color":{"field":"k","type":"nominal","scale":{"domain":["teal","green","red"],"range":["#089981","#4caf50","#f23645"]},"legend":null}}},
{"data":{"name":"trend"},"mark":{"type":"line","color":"#000000","strokeWidth":3.5},"encoding":{"y":{"field":"p","type":"quantitative","scale":{"domain":[6441.6,6909.9],"nice":false,"zero":false},"axis":null}}},
{"data":{"name":"fibText"},"mark":{"type":"text","align":"right","baseline":"middle","fontSize":12},"encoding":{"y":{"field":"p","type":"quantitative","scale":{"domain":[6441.6,6909.9],"nice":false,"zero":false},"axis":null},"text":{"field":"t"},"color":{"field":"k","type":"nominal","scale":{"domain":["teal","green","red"],"range":["#26a69a","#4caf50","#f23645"]},"legend":null}}},
{"data":{"name":"legend"},"mark":{"type":"text","align":"left","baseline":"middle","fontSize":12},"encoding":{"y":{"field":"p","type":"quantitative","scale":{"domain":[6441.6,6909.9],"nice":false,"zero":false},"axis":null},"text":{"field":"t"},"color":{"field":"k","type":"nominal","scale":{"domain":["label","val","blue","maroon","green","red","teal"],"range":["#5d606b","#131722","#2196f3","#b02a2a","#43a047","#ff5252","#26a69a"]},"legend":null}}},
{"data":{"name":"usdBox"},"mark":{"type":"rect","fill":"#ffffff","stroke":"#e0e3eb","cornerRadius":3},"encoding":{"x":{"field":"x1","type":"quantitative","scale":{"domain":[-0.38,189.9],"nice":false,"zero":false,"padding":0},"axis":null},"x2":{"field":"x2"},"y":{"field":"lo","type":"quantitative","scale":{"domain":[6441.6,6909.9],"nice":false,"zero":false},"axis":null},"y2":{"field":"hi"}}},
{"data":{"name":"usdText"},"mark":{"type":"text","align":"center","baseline":"middle","fontSize":12,"color":"#131722"},"encoding":{"y":{"field":"p","type":"quantitative","scale":{"domain":[6441.6,6909.9],"nice":false,"zero":false},"axis":null},"text":{"field":"t"}}},
{"data":{"name":"flags"},"mark":{"type":"point","shape":"circle","filled":true,"fill":"#ffffff","stroke":"#f23645","strokeWidth":2,"size":283,"opacity":1},"encoding":{"y":{"field":"p","type":"quantitative","scale":{"domain":[6441.6,6909.9],"nice":false,"zero":false},"axis":null}}},
{"data":{"name":"flags"},"mark":{"type":"point","shape":"M-0.75 -0.7H0V0.05H-0.75Z","filled":true,"color":"#2f7fe8","size":196,"opacity":1},"encoding":{"y":{"field":"p","type":"quantitative","scale":{"domain":[6441.6,6909.9],"nice":false,"zero":false},"axis":null}}},
{"data":{"name":"flags"},"mark":{"type":"point","shape":"M0.05 -0.55H0.8V-0.25H0.05ZM0.05 0.05H0.95V0.3H0.05ZM-0.7 0.5H0.7V0.75H-0.7Z","filled":true,"color":"#f25555","size":196,"opacity":1},"encoding":{"y":{"field":"p","type":"quantitative","scale":{"domain":[6441.6,6909.9],"nice":false,"zero":false},"axis":null}}},
{"data":{"name":"flash"},"mark":{"type":"point","shape":"circle","filled":true,"fill":"#ffffff","stroke":"#9c27b0","strokeWidth":2,"size":283,"opacity":1},"encoding":{"y":{"field":"p","type":"quantitative","scale":{"domain":[6441.6,6909.9],"nice":false,"zero":false},"axis":null}}},
{"data":{"name":"flash"},"mark":{"type":"point","shape":"M0.25 -0.8L-0.5 0.15H-0.05L-0.25 0.8L0.5 -0.15H0.05Z","filled":true,"color":"#9c27b0","size":100,"opacity":1},"encoding":{"y":{"field":"p","type":"quantitative","scale":{"domain":[6441.6,6909.9],"nice":false,"zero":false},"axis":null}}},
{"data":{"name":"flashDot"},"mark":{"type":"point","shape":"circle","filled":true,"color":"#f23645","size":28,"opacity":1},"encoding":{"y":{"field":"p","type":"quantitative","scale":{"domain":[6441.6,6909.9],"nice":false,"zero":false},"axis":null}}}
]}
]},
{"width":1253,"height":79,"view":{"fill":"#ffffff","stroke":"#9a9a9a"},"resolve":{"scale":{"color":"independent"},"axis":{"x":"independent","y":"independent"}},
"encoding":{"x":{"field":"i","type":"quantitative","scale":{"domain":[-0.38,189.9],"nice":false,"zero":false,"padding":0},"axis":null}},
"layer":[
{"data":{"name":"rsiBand"},"mark":{"type":"rect","color":"#f3e6fd"},"encoding":{"x":{"field":"x1","type":"quantitative","scale":{"domain":[-0.38,189.9],"nice":false,"zero":false,"padding":0},"axis":{"offset":-28,"values":[5,19,33,54,68,82,96,110,124,138,152,166],"labelExpr":"['23','27','29','Nov','5','7','11','13','17','19','21','25'][indexof([5,19,33,54,68,82,96,110,124,138,152,166],datum.value)]","labelPadding":9,"labelOffset":-1,"ticks":false,"domain":true,"domainColor":"#50535e","title":null}},"x2":{"field":"x2"},"y":{"field":"lo","type":"quantitative","scale":{"domain":[-14.9,90.4],"nice":false,"zero":false},"axis":{"orient":"right","offset":-66,"values":[80],"format":".2f","labelPadding":9,"ticks":false,"domain":true,"domainColor":"#50535e","title":null}},"y2":{"field":"hi"}}},
{"data":{"name":"rsiBand"},"mark":{"type":"rule","color":"#b2b5be","strokeWidth":1,"strokeDash":[4,4]},"encoding":{"x":{"field":"x1","type":"quantitative","scale":{"domain":[-0.38,189.9],"nice":false,"zero":false,"padding":0},"axis":null},"x2":{"field":"x2"},"y":{"field":"hi","type":"quantitative","scale":{"domain":[-14.9,90.4],"nice":false,"zero":false},"axis":null}}},
{"data":{"name":"rsiBand"},"mark":{"type":"rule","color":"#b2b5be","strokeWidth":1,"strokeDash":[4,4]},"encoding":{"x":{"field":"x1","type":"quantitative","scale":{"domain":[-0.38,189.9],"nice":false,"zero":false,"padding":0},"axis":null},"x2":{"field":"x2"},"y":{"field":"lo","type":"quantitative","scale":{"domain":[-14.9,90.4],"nice":false,"zero":false},"axis":null}}},
{"data":{"name":"bars"},"mark":{"type":"line","color":"#131722","strokeWidth":1.2,"clip":true},"encoding":{"y":{"field":"r","type":"quantitative","scale":{"domain":[-14.9,90.4],"nice":false,"zero":false},"axis":null}}},
{"data":{"name":"rsiText"},"mark":{"type":"text","align":"left","baseline":"middle","fontSize":12},"encoding":{"y":{"field":"r","type":"quantitative","scale":{"domain":[-14.9,90.4],"nice":false,"zero":false},"axis":null},"text":{"field":"t"},"color":{"field":"k","type":"nominal","scale":{"domain":["label","val"],"range":["#5d606b","#131722"]},"legend":null}}}
]},
{"width":1253,"height":60,"view":{"fill":null,"stroke":null},"encoding":{"x":{"field":"i","type":"quantitative","scale":{"domain":[-0.38,189.9],"nice":false,"zero":false,"padding":0},"axis":null}},
"layer":[
{"data":{"name":"logo"},"mark":{"type":"point","shape":"M-1 -0.5H-0.12V0.5H-0.46V-0.17H-1ZM0.12 -0.5A0.15 0.15 0 1 1 0.119 -0.5ZM0.55 -0.5H1L0.55 0.5H0.1Z","filled":true,"color":"#e0e0e0","size":900,"opacity":1},"encoding":{"y":{"field":"y","type":"quantitative","scale":{"domain":[0,1]},"axis":null}}},
{"data":{"name":"logoText"},"mark":{"type":"text","align":"left","baseline":"middle","font":"Inter","fontSize":19.8,"fontWeight":600,"color":"#e0e0e0"},"encoding":{"y":{"field":"y","type":"quantitative","scale":{"domain":[0,1]},"axis":null},"text":{"field":"t"}}}
]}
]}
